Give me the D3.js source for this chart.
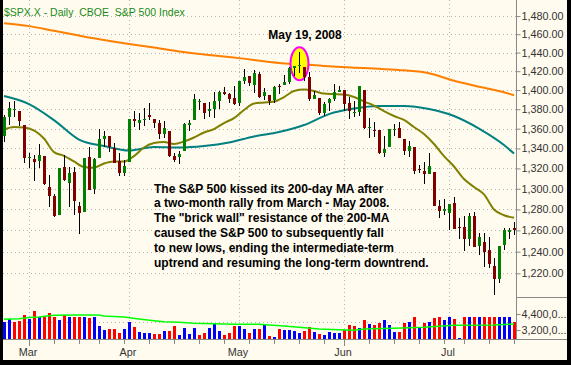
<!DOCTYPE html>
<html>
<head>
<meta charset="utf-8">
<script src="https://cdn.jsdelivr.net/npm/d3@7"></script>
<style>
  body { margin: 0; background: #fffbee; }
  svg { display: block; }
</style>
</head>
<body>
<div id="chart"></div>
<script>
// trading days shown on the chart
const dates = [
  "2008-02-25","2008-02-26","2008-02-27","2008-02-28","2008-02-29",
  "2008-03-03","2008-03-04","2008-03-05","2008-03-06","2008-03-07",
  "2008-03-10","2008-03-11","2008-03-12","2008-03-13","2008-03-14",
  "2008-03-17","2008-03-18","2008-03-19","2008-03-20",
  "2008-03-24","2008-03-25","2008-03-26","2008-03-27","2008-03-28","2008-03-31",
  "2008-04-01","2008-04-02","2008-04-03","2008-04-04",
  "2008-04-07","2008-04-08","2008-04-09","2008-04-10","2008-04-11",
  "2008-04-14","2008-04-15","2008-04-16","2008-04-17","2008-04-18",
  "2008-04-21","2008-04-22","2008-04-23","2008-04-24","2008-04-25",
  "2008-04-28","2008-04-29","2008-04-30",
  "2008-05-01","2008-05-02",
  "2008-05-05","2008-05-06","2008-05-07","2008-05-08","2008-05-09",
  "2008-05-12","2008-05-13","2008-05-14","2008-05-15","2008-05-16",
  "2008-05-19","2008-05-20","2008-05-21","2008-05-22","2008-05-23",
  "2008-05-27","2008-05-28","2008-05-29","2008-05-30",
  "2008-06-02","2008-06-03","2008-06-04","2008-06-05","2008-06-06",
  "2008-06-09","2008-06-10","2008-06-11","2008-06-12","2008-06-13",
  "2008-06-16","2008-06-17","2008-06-18","2008-06-19","2008-06-20",
  "2008-06-23","2008-06-24","2008-06-25","2008-06-26","2008-06-27",
  "2008-06-30",
  "2008-07-01","2008-07-02","2008-07-03",
  "2008-07-07","2008-07-08","2008-07-09","2008-07-10","2008-07-11",
  "2008-07-14","2008-07-15","2008-07-16","2008-07-17","2008-07-18",
  "2008-07-21"
];

const open = [
  1352.8,1371.8,1379.0,1378.6,1364.1,
  1330.5,1329.6,1327.7,1332.2,1301.5,
  1293.2,1274.4,1321.1,1305.3,1316.1,
  1283.2,1277.2,1331.0,1299.7,
  1330.3,1349.1,1352.5,1340.3,1327.0,1315.9,
  1326.4,1370.0,1365.7,1369.9,
  1373.7,1370.2,1365.5,1354.5,1357.7,
  1332.2,1331.7,1337.0,1363.4,1369.0,
  1387.7,1386.4,1378.4,1380.5,1388.4,
  1398.0,1395.6,1391.2,
  1386.0,1409.2,
  1415.3,1405.6,1417.5,1394.3,1394.9,
  1389.4,1404.4,1405.7,1408.4,1423.9,
  1425.3,1424.5,1414.1,1390.8,1392.2,
  1376.0,1386.5,1390.5,1398.4,
  1399.6,1386.4,1376.3,1377.5,1400.1,
  1360.8,1359.0,1358.4,1335.8,1341.8,
  1358.9,1360.7,1349.6,1336.9,1341.0,
  1319.8,1317.2,1314.5,1316.3,1283.6,
  1278.1,
  1276.7,1285.8,1263.0,
  1262.9,1251.8,1273.4,1245.3,1248.7,
  1241.6,1226.8,1214.7,1246.3,1258.2,
  1261.8
];
const high = [
  1374.4,1387.3,1388.3,1378.6,1364.1,
  1335.1,1333.0,1344.2,1332.2,1313.2,
  1295.0,1320.7,1333.3,1321.7,1321.5,
  1287.5,1330.7,1341.5,1330.7,
  1359.7,1357.5,1352.5,1345.6,1334.9,1328.5,
  1370.2,1378.0,1375.7,1380.9,
  1386.7,1370.2,1368.4,1367.8,1357.7,
  1335.6,1337.7,1365.5,1368.6,1395.9,
  1390.2,1386.4,1387.9,1397.7,1399.1,
  1402.9,1397.0,1404.6,
  1410.1,1422.7,
  1415.3,1421.6,1419.5,1402.4,1394.9,
  1404.1,1406.3,1416.0,1424.4,1425.8,
  1440.2,1424.5,1419.1,1399.1,1392.2,
  1387.4,1391.3,1406.3,1404.5,
  1399.6,1393.1,1388.2,1404.1,1400.1,
  1370.6,1366.8,1358.4,1353.0,1360.0,
  1364.7,1366.6,1349.6,1347.7,1341.0,
  1323.8,1326.0,1335.6,1316.3,1289.5,
  1290.3,
  1285.3,1292.2,1271.7,
  1274.0,1277.0,1277.4,1257.7,1257.3,
  1253.5,1234.4,1245.5,1262.3,1262.2,
  1267.7
];
const low = [
  1346.0,1363.3,1372.0,1363.2,1325.4,
  1320.0,1307.4,1320.2,1303.4,1282.4,
  1272.7,1274.4,1307.9,1282.1,1274.9,
  1257.0,1277.2,1298.4,1295.2,
  1330.3,1341.2,1336.4,1325.7,1313.0,1312.8,
  1326.4,1361.6,1358.7,1362.8,
  1369.0,1360.6,1350.0,1350.1,1331.2,
  1326.2,1324.4,1337.0,1357.3,1369.0,
  1379.3,1369.8,1372.2,1371.1,1380.0,
  1394.4,1386.7,1384.3,
  1383.1,1406.3,
  1404.4,1397.1,1391.2,1389.4,1384.1,
  1386.2,1396.3,1405.7,1406.9,1414.4,
  1418.0,1409.1,1388.8,1390.2,1373.7,
  1373.1,1378.2,1388.6,1398.1,
  1377.8,1370.1,1371.7,1373.1,1359.9,
  1350.2,1351.6,1334.4,1331.3,1341.7,
  1352.1,1350.5,1333.4,1330.9,1314.5,
  1315.3,1304.4,1314.5,1283.2,1272.0,
  1274.9,
  1260.7,1261.5,1252.0,
  1240.7,1245.0,1244.6,1236.8,1225.4,
  1225.0,1200.4,1211.4,1241.5,1251.8,
  1255.7
];
const close = [
  1371.8,1381.3,1380.0,1367.7,1330.6,
  1331.3,1326.8,1333.7,1304.3,1293.4,
  1273.4,1320.7,1308.8,1315.5,1288.1,
  1276.6,1330.7,1298.4,1329.5,
  1349.9,1353.0,1341.1,1325.8,1315.2,1322.7,
  1370.2,1367.5,1369.3,1370.4,
  1372.5,1365.5,1354.5,1360.6,1332.8,
  1328.3,1334.4,1364.7,1365.6,1390.3,
  1388.2,1375.9,1379.9,1388.8,1397.8,
  1396.4,1390.9,1385.6,
  1409.3,1413.9,
  1407.5,1418.3,1392.6,1397.7,1388.3,
  1403.6,1403.0,1408.7,1423.6,1425.4,
  1426.6,1413.4,1390.7,1394.4,1375.9,
  1385.4,1390.8,1398.3,1400.4,
  1385.7,1377.7,1377.2,1404.1,1360.7,
  1361.8,1358.4,1335.5,1339.9,1360.0,
  1360.1,1350.9,1337.8,1342.8,1317.9,
  1318.0,1314.3,1322.0,1283.2,1278.4,
  1280.0,
  1284.9,1261.5,1262.9,
  1252.3,1273.7,1244.7,1253.4,1239.5,
  1228.3,1214.9,1245.4,1260.3,1260.7,
  1260.0
];
const priorClose = 1353.1; // close of the day before the first bar

// volume, read in the units of the volume axis (billions)
const volume = [
  3.8,4.03,3.8,3.88,4.33,
  4.03,4.63,4.18,4.25,4.48,
  4.18,3.95,4.33,4.18,4.18,
  4.18,4.18,4.1,4.18,
  3.5,3.2,3.28,3.28,2.98,3.28,
  3.8,3.43,3.05,2.98,
  2.98,2.9,2.9,3.13,3.13,
  3.5,2.83,3.35,2.9,3.35,
  2.83,2.98,3.35,3.65,3.13,
  2.83,2.98,3.5,
  3.5,3.28,
  2.98,3.28,3.28,3.65,2.75,
  2.68,3.28,3.2,3.2,3.15,
  3.0,3.1,3.45,3.05,2.9,
  2.83,3.05,2.98,2.98,
  3.2,3.58,3.5,3.35,3.95,
  3.65,3.58,3.73,3.95,3.58,
  3.05,3.05,3.73,3.8,4.18,
  3.35,3.73,3.8,4.1,4.18,
  3.95,
  4.18,4.03,2.6,
  4.2,4.2,4.2,4.2,4.2,
  4.2,4.2,4.2,4.2,4.2,
  3.8
];

// moving averages at sample days
const maDates = ["2008-02-25","2008-03-03","2008-03-10","2008-03-17","2008-03-25","2008-04-01",
  "2008-04-08","2008-04-15","2008-04-22","2008-04-29","2008-05-06","2008-05-13","2008-05-20",
  "2008-05-28","2008-06-04","2008-06-11","2008-06-18","2008-06-25","2008-07-02","2008-07-10",
  "2008-07-17","2008-07-21"];
const ma200 = [1472.2,1468.9,1463.7,1458.5,1453.6,1449.3,1445.5,1441.2,1438.0,1435.3,1432.1,
  1428.9,1427.3,1425.2,1423.8,1422.5,1420.9,1417.9,1409.8,1403.5,1397.7,1394.6];
const ma50 = [1393.7,1385.4,1368.8,1348.9,1342.4,1337.8,1341.4,1340.9,1342.4,1345.9,1352.0,
  1356.6,1363.7,1375.0,1380.7,1383.3,1383.3,1380.2,1373.0,1360.1,1343.4,1334.8];

const ma20Dates = ["2008-02-25","2008-02-27","2008-02-29","2008-03-06","2008-03-10","2008-03-12",
  "2008-03-14","2008-03-18","2008-03-20","2008-03-25","2008-03-27","2008-03-31","2008-04-02",
  "2008-04-04","2008-04-08","2008-04-10","2008-04-14","2008-04-16","2008-04-18","2008-04-22",
  "2008-04-24","2008-04-28","2008-04-30","2008-05-02","2008-05-06","2008-05-08","2008-05-12",
  "2008-05-14","2008-05-16","2008-05-20","2008-05-22","2008-05-27","2008-05-29","2008-06-02",
  "2008-06-04","2008-06-06","2008-06-10","2008-06-12","2008-06-16","2008-06-18","2008-06-20",
  "2008-06-24","2008-06-26","2008-06-30","2008-07-02","2008-07-07","2008-07-09","2008-07-11",
  "2008-07-15","2008-07-17","2008-07-21"];
const ma20 = [1359.1,1361.7,1361.2,1350.0,1336.3,1332.6,1326.9,1321.4,1320.7,1324.9,1326.9,
  1326.9,1332.3,1340.9,1345.4,1346.4,1344.4,1346.9,1351.0,1356.1,1359.6,1365.8,1370.9,1379.2,
  1385.9,1386.9,1388.0,1392.7,1399.0,1400.5,1399.0,1396.3,1395.8,1395.3,1392.7,1388.0,1383.8,
  1378.1,1373.0,1368.9,1361.7,1354.5,1344.4,1332.3,1321.9,1309.5,1301.7,1294.5,1279.9,1274.4,
  1272.0];

const volMaDates = ["2008-02-25","2008-02-28","2008-03-03","2008-03-05","2008-03-10","2008-03-17",
  "2008-03-24","2008-03-25","2008-03-31","2008-04-03","2008-04-08","2008-04-10","2008-04-15",
  "2008-04-18","2008-04-24","2008-04-30","2008-05-07","2008-05-09","2008-05-14","2008-05-19",
  "2008-05-23","2008-05-30","2008-06-04","2008-06-06","2008-06-16","2008-06-24","2008-07-02",
  "2008-07-15","2008-07-21"];
const volMa = [4.0,4.05,4.14,4.18,4.3,4.33,4.33,4.25,4.18,4.03,3.9,3.82,3.78,3.7,3.67,3.63,
  3.63,3.58,3.5,3.4,3.28,3.22,3.18,3.28,3.33,3.4,3.55,3.58,3.65];

const priceTicks = [1220,1240,1260,1280,1300,1320,1340,1360,1380,1400,1420,1440,1460,1480];
const volTicks = [3.2, 4.4];
const volTickLabels = ["3,200,0...", "4,400,0..."];
const volGrid = [3.8];

const title = "$SPX.X - Daily  CBOE  S&P 500 Index";
const markDate = "2008-05-19";
const markLabel = "May 19, 2008";
const note = [
  "The S&P 500 kissed its 200-day MA after",
  "a two-month rally from March - May 2008.",
  "The \"brick wall\" resistance of the 200-MA",
  "caused the S&P 500 to subsequently fall",
  "to new lows, ending the intermediate-term",
  "uptrend and resuming the long-term downtrend."
];

// ---- layout ----
const W = 571, H = 365;
const plotL = 3, plotR = 516, priceB = 297, volB = 339;
const font = "'Liberation Sans', Arial, sans-serif";

const parse = d3.timeParse("%Y-%m-%d");
const days = dates.map(parse);
const idx = d => dates.indexOf(d);

const x = d3.scaleLinear().domain([0, dates.length - 1]).range([4, 514]);
const y = d3.scaleLog().domain([1198.5, 1498]).range([priceB, 0]);
const yv = d3.scaleLinear().domain([2.525, 5.675]).range([volB, priceB]).clamp(true);
const px = i => Math.round(x(i)) + 0.5;

const svg = d3.select("#chart").append("svg")
  .attr("width", W).attr("height", H)
  .style("font-family", font);

svg.append("rect").attr("width", W).attr("height", H).attr("fill", "#fffbee");

const defs = svg.append("defs");
defs.append("clipPath").attr("id", "pclip").append("rect")
  .attr("x", plotL).attr("y", 0).attr("width", plotR - plotL).attr("height", priceB);
defs.append("clipPath").attr("id", "vclip").append("rect")
  .attr("x", plotL).attr("y", priceB).attr("width", plotR - plotL).attr("height", volB - priceB);

// month starts and week starts
const monthStarts = [], weekStarts = [];
days.forEach((d, i) => {
  if (i === 0) return;
  if (d.getMonth() !== days[i - 1].getMonth()) monthStarts.push(i);
  if (d.getDay() < days[i - 1].getDay()) weekStarts.push(i);
});

// ---- grid ----
const grid = svg.append("g")
  .attr("stroke", "#b4b4b4").attr("stroke-dasharray", "1,3").attr("shape-rendering", "crispEdges");
grid.selectAll(".hg").data(priceTicks).join("line")
  .attr("x1", plotL).attr("x2", plotR)
  .attr("y1", d => Math.round(y(d)) + 0.5).attr("y2", d => Math.round(y(d)) + 0.5);
grid.selectAll(".vg").data(volGrid).join("line")
  .attr("x1", plotL).attr("x2", plotR)
  .attr("y1", d => Math.round(yv(d)) + 0.5).attr("y2", d => Math.round(yv(d)) + 0.5);
grid.selectAll(".mg").data(monthStarts).join("line")
  .attr("x1", px).attr("x2", px).attr("y1", 0).attr("y2", volB);

// ---- moving averages ----
const maLine = d3.line().x(d => x(d[0])).y(d => y(d[1])).curve(d3.curveMonotoneX);
const pg = svg.append("g").attr("clip-path", "url(#pclip)");
const maSets = [
  { ds: maDates, vs: ma200, color: "#ff8000" },
  { ds: maDates, vs: ma50, color: "#008080" },
  { ds: ma20Dates, vs: ma20, color: "#808000" }
];
maSets.forEach(s => {
  pg.append("path")
    .datum(s.ds.map((d, i) => [idx(d), s.vs[i]]))
    .attr("fill", "none").attr("stroke", s.color).attr("stroke-width", 2)
    .attr("d", maLine);
});

// highlight of the marked day
const mi = idx(markDate);
const mcy = (y(high[mi]) + y(low[mi])) / 2 + 1;
pg.append("ellipse")
  .attr("cx", x(mi) + 0.5).attr("cy", mcy).attr("rx", 9).attr("ry", 16.5)
  .attr("fill", "#ffff00").attr("stroke", "#ff00ff").attr("stroke-width", 2);

// ---- candles ----
const candles = pg.append("g").attr("shape-rendering", "crispEdges");
candles.selectAll("line").data(dates).join("line")
  .attr("x1", (d, i) => px(i)).attr("x2", (d, i) => px(i))
  .attr("y1", (d, i) => y(high[i])).attr("y2", (d, i) => y(low[i]))
  .attr("stroke", "#000").attr("stroke-width", 1);
candles.selectAll("rect").data(dates).join("rect")
  .attr("x", (d, i) => Math.round(x(i)) - 1)
  .attr("width", 3)
  .attr("y", (d, i) => y(Math.max(open[i], close[i])))
  .attr("height", (d, i) => Math.max(1, Math.abs(y(open[i]) - y(close[i]))))
  .attr("fill", (d, i) => close[i] >= open[i] ? "#008000" : "#800000");

// ---- volume ----
const vg = svg.append("g").attr("clip-path", "url(#vclip)");
vg.append("g").attr("shape-rendering", "crispEdges")
  .selectAll("rect").data(volume).join("rect")
  .attr("x", (d, i) => Math.round(x(i)) - 1)
  .attr("width", 3)
  .attr("y", d => yv(d))
  .attr("height", d => volB - yv(d))
  .attr("fill", (d, i) => close[i] >= (i ? close[i - 1] : priorClose) ? "#0000ff" : "#ff0000");
vg.append("path")
  .datum(volMaDates.map((d, i) => [idx(d), volMa[i]]))
  .attr("fill", "none").attr("stroke", "#00ff00").attr("stroke-width", 1.5)
  .attr("d", d3.line().x(d => x(d[0])).y(d => yv(d[1])));

// ---- axes ----
const axisColor = "#888";
const ax = svg.append("g").attr("shape-rendering", "crispEdges");
ax.append("line").attr("x1", plotR + 0.5).attr("x2", plotR + 0.5).attr("y1", 0).attr("y2", volB + 1)
  .attr("stroke", axisColor);
ax.append("line").attr("x1", plotR).attr("x2", W).attr("y1", priceB + 0.5).attr("y2", priceB + 0.5)
  .attr("stroke", axisColor);
ax.append("line").attr("x1", plotL).attr("x2", W).attr("y1", volB + 0.5).attr("y2", volB + 0.5)
  .attr("stroke", axisColor).attr("stroke-width", 1.5);

const yAxis = d3.axisRight(y).tickValues(priceTicks)
  .tickFormat(d3.format(",.2f")).tickSize(4).tickPadding(1);
const ya = svg.append("g").attr("transform", `translate(${plotR + 0.5},0)`).call(yAxis);
ya.select(".domain").remove();
ya.selectAll("line").attr("stroke", axisColor);
ya.selectAll("text").attr("fill", "#333").style("font-size", "10.8px").style("font-family", font);

const vAxis = d3.axisRight(yv).tickValues(volTicks)
  .tickFormat((d, i) => volTickLabels[i]).tickSize(4).tickPadding(1);
const va = svg.append("g").attr("transform", `translate(${plotR + 0.5},0)`).call(vAxis);
va.select(".domain").remove();
va.selectAll("line").attr("stroke", axisColor);
va.selectAll("text").attr("fill", "#333").style("font-size", "10.8px").style("font-family", font);

// bottom time axis
ax.selectAll(".wk").data(weekStarts).join("line")
  .attr("x1", px).attr("x2", px).attr("y1", volB + 1)
  .attr("y2", d => monthStarts.includes(d) ? volB + 7 : volB + 5)
  .attr("stroke", axisColor);
const fmtMonth = d3.timeFormat("%b");
svg.selectAll(".mlab").data(monthStarts).join("text")
  .attr("x", i => x(i) - 1).attr("y", 356)
  .attr("text-anchor", "middle").attr("fill", "#333").style("font-size", "10.8px")
  .text(i => fmtMonth(days[i]));

// ---- texts ----
svg.append("text").attr("x", 4).attr("y", 15.5)
  .attr("fill", "#1a8a1a").style("font-size", "10.5px").style("white-space", "pre")
  .text(title);

svg.append("text").attr("x", x(mi) + 6).attr("y", 39)
  .attr("text-anchor", "middle").attr("fill", "#000")
  .style("font-size", "12px").style("font-weight", "bold")
  .text(markLabel);

svg.append("g").selectAll("text").data(note).join("text")
  .attr("x", 154).attr("y", (d, i) => 192.5 + i * 14.8)
  .attr("fill", "#000").style("font-size", "12px").style("font-weight", "bold")
  .text(d => d);

// ---- frame ----
const frame = svg.append("g").attr("fill", "#000");
frame.append("rect").attr("x", 0).attr("y", 0).attr("width", 3).attr("height", H);
frame.append("rect").attr("x", 567).attr("y", 0).attr("width", 4).attr("height", H);
frame.append("rect").attr("x", 0).attr("y", 360).attr("width", W).attr("height", 5);
</script>
</body>
</html>
